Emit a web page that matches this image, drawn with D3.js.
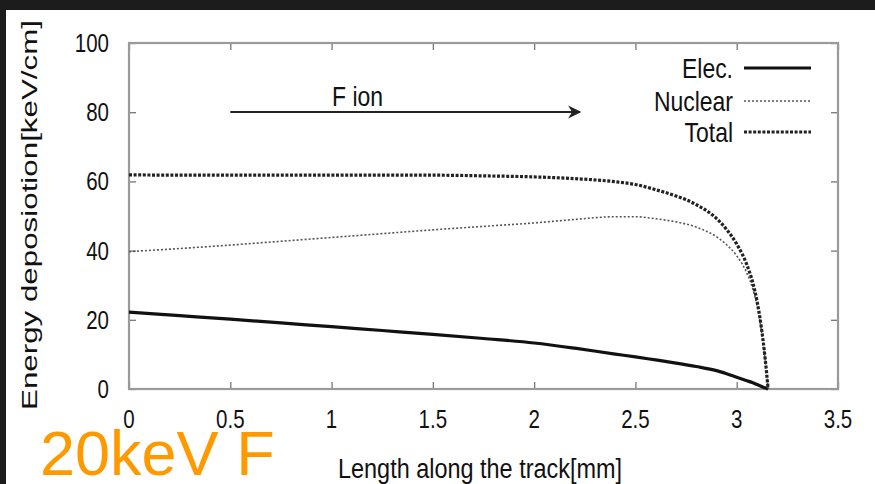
<!DOCTYPE html>
<html>
<head>
<meta charset="utf-8">
<script src="https://cdn.jsdelivr.net/npm/d3@7"></script>
<style>
  html, body { margin: 0; padding: 0; background: #1c1c1c; }
  svg { display: block; }
</style>
</head>
<body>
<svg id="chart" width="875" height="484"></svg>
<script>
// Position along the track [mm]
const trackMm = [0, 0.25, 0.5, 0.75, 1, 1.25, 1.5, 1.75, 2, 2.2, 2.4, 2.5, 2.6, 2.7, 2.8, 2.9, 2.95, 3.0, 3.05, 3.08, 3.1, 3.12, 3.14, 3.155];
// Energy deposition [keV/cm]
const elecLoss = [22.2, 21.2, 20.2, 19.1, 18.0, 16.9, 15.8, 14.6, 13.3, 11.8, 10.1, 9.3, 8.4, 7.5, 6.5, 5.3, 4.4, 3.4, 2.4, 1.8, 1.3, 0.8, 0.35, 0];
const nuclearLoss = [39.7, 40.6, 41.6, 42.7, 43.8, 44.9, 46.0, 47.0, 48.0, 49.0, 49.8, 49.8, 49.2, 48.3, 46.8, 44.0, 41.7, 38.5, 33.5, 28.8, 24.2, 17.7, 8.6, 0];
const totalLoss = [61.9, 61.8, 61.8, 61.8, 61.8, 61.8, 61.8, 61.6, 61.3, 60.8, 59.9, 59.1, 57.6, 55.8, 53.3, 49.3, 46.1, 41.9, 35.9, 30.6, 25.5, 18.5, 9.0, 0];

const xTicks = [0, 0.5, 1, 1.5, 2, 2.5, 3, 3.5];
const xTickLabels = ["0", "0.5", "1", "1.5", "2", "2.5", "3", "3.5"];
const yTicks = [0, 20, 40, 60, 80, 100];
const yTickLabels = ["0", "20", "40", "60", "80", "100"];

const seriesNames = ["Elec.", "Nuclear", "Total"];

const svg = d3.select("#chart");
const W = 875, H = 484;

// white sheet
svg.append("rect").attr("x", 6).attr("y", 10).attr("width", W - 6).attr("height", H - 10).attr("fill", "#ffffff");

const x = d3.scaleLinear().domain([0, 3.5]).range([129, 838]);
const y = d3.scaleLinear().domain([0, 100]).range([389, 43]);

const sans = "'Liberation Sans', Arial, Helvetica, sans-serif";
const squeeze = 0.82; // condensed look of the plot lettering
const frameColor = "#9a9a9a";

// helper: horizontally condensed text anchored at (px, py)
function narrowText(sel, px, py, size, anchor, str) {
  return sel.append("text")
    .attr("transform", `translate(${px},${py}) scale(${squeeze},1)`)
    .attr("text-anchor", anchor)
    .attr("font-family", sans).attr("font-size", size).attr("fill", "#111")
    .text(str);
}

// inward ticks on all four sides
const g = svg.append("g");
const tickLen = 7;
const axB = d3.axisBottom(x).tickValues(xTicks).tickSize(-tickLen).tickFormat("");
const axT = d3.axisTop(x).tickValues(xTicks).tickSize(-tickLen).tickFormat("");
const axL = d3.axisLeft(y).tickValues(yTicks).tickSize(-tickLen).tickFormat("");
const axR = d3.axisRight(y).tickValues(yTicks).tickSize(-tickLen).tickFormat("");
[[axB, `translate(0,${y(0)})`], [axT, `translate(0,${y(100)})`], [axL, `translate(${x(0)},0)`], [axR, `translate(${x(3.5)},0)`]].forEach(([ax, tr]) => {
  const a = g.append("g").attr("transform", tr).call(ax);
  a.select(".domain").remove();
  a.selectAll("line").attr("stroke", "#777").attr("stroke-width", 1.3);
});

// frame
svg.append("rect")
  .attr("x", x(0)).attr("y", y(100))
  .attr("width", x(3.5) - x(0)).attr("height", y(0) - y(100))
  .attr("fill", "none").attr("stroke", frameColor).attr("stroke-width", 2.2);

// tick labels
const xl = svg.append("g");
xTicks.forEach((d, i) => narrowText(xl, x(d), 428, 25, "middle", xTickLabels[i]));
const yl = svg.append("g");
yTicks.forEach((d, i) => narrowText(yl, 109, y(d) + 9, 25, "end", yTickLabels[i]));

// axis titles
svg.append("text")
  .attr("x", 480).attr("y", 478)
  .attr("text-anchor", "middle")
  .attr("font-family", sans).attr("font-size", 27).attr("fill", "#111")
  .attr("textLength", 284).attr("lengthAdjust", "spacingAndGlyphs")
  .text("Length along the track[mm]");

svg.append("text")
  .attr("transform", "translate(37,215) rotate(-90)")
  .attr("text-anchor", "middle")
  .attr("font-family", sans).attr("font-size", 22).attr("fill", "#111")
  .attr("textLength", 390).attr("lengthAdjust", "spacingAndGlyphs")
  .text("Energy deposiotion[keV/cm]");

// curves
const line = d3.line().x(d => x(d[0])).y(d => y(d[1])).curve(d3.curveMonotoneX);
const styles = [
  { data: elecLoss, stroke: "#111", width: 3.2, dash: null },
  { data: nuclearLoss, stroke: "#555", width: 1.6, dash: "2,2" },
  { data: totalLoss, stroke: "#222", width: 3.2, dash: "3,1.6" }
];
styles.forEach(s => {
  svg.append("path")
    .datum(trackMm.map((t, i) => [t, s.data[i]]))
    .attr("d", line)
    .attr("fill", "none")
    .attr("stroke", s.stroke)
    .attr("stroke-width", s.width)
    .attr("stroke-dasharray", s.dash);
});

// legend
const legendY = [68, 101, 132];
const lg = svg.append("g");
seriesNames.forEach((name, i) => {
  narrowText(lg, 733, legendY[i] + 10, 28, "end", name);
  lg.append("line")
    .attr("x1", 744).attr("x2", 811)
    .attr("y1", legendY[i]).attr("y2", legendY[i])
    .attr("stroke", styles[i].stroke)
    .attr("stroke-width", styles[i].width)
    .attr("stroke-dasharray", styles[i].dash);
});

// direction of the ion
const defs = svg.append("defs");
defs.append("marker")
  .attr("id", "head").attr("viewBox", "0 0 10 10")
  .attr("refX", 9).attr("refY", 5)
  .attr("markerWidth", 8).attr("markerHeight", 6)
  .attr("markerUnits", "strokeWidth")
  .attr("orient", "auto")
  .append("path").attr("d", "M0,0 L10,5 L0,10 L3,5 Z").attr("fill", "#222");

svg.append("line")
  .attr("x1", x(0.5)).attr("x2", 580)
  .attr("y1", 112).attr("y2", 112)
  .attr("stroke", "#222").attr("stroke-width", 2.2)
  .attr("marker-end", "url(#head)");

narrowText(svg, 332, 106, 28, "start", "F ion");

// energy tag
svg.append("text")
  .attr("x", 40).attr("y", 475)
  .attr("font-family", sans).attr("font-size", 63)
  .attr("fill", "#ff9900")
  .text("20keV F");
</script>
</body>
</html>
